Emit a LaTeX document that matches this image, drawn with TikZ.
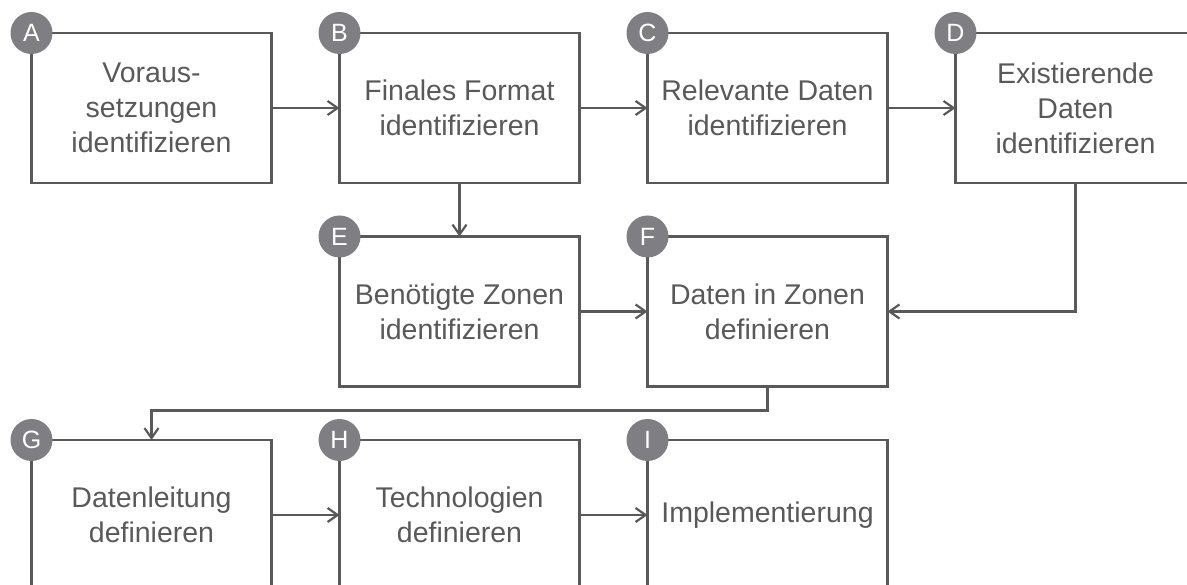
\documentclass[tikz,border=0pt]{standalone}
\usepackage{fontspec}
\setmainfont{Liberation Sans}
\usepackage{xcolor}
\usetikzlibrary{arrows.meta, positioning}
\definecolor{linegray}{HTML}{595959}
\definecolor{taggray}{HTML}{7F7F83}

\begin{document}
\begin{tikzpicture}[
  x=1pt, y=-1pt,
  box/.style={draw=linegray, line width=2.2pt, minimum width=240pt, minimum height=150pt, align=center, text=linegray, font=\fontsize{28.5}{35}\selectfont, inner sep=0pt, outer sep=0pt},
  tag/.style={circle, fill=taggray, minimum size=42pt, inner sep=0pt, text=white, font=\fontsize{25}{25}\selectfont},
  edge/.style={draw=linegray, line width=2.2pt, -{Straight Barb[length=10pt, width=14pt]}}
]
\clip (0,0) rectangle (1187,585);
\node[box] (A) at (151.5,108) {Voraus-\\setzungen\\identifizieren};
\node[box, right=68pt of A] (B) {Finales Format\\identifizieren};
\node[box, right=68pt of B] (C) {Relevante Daten\\identifizieren};
\node[box, right=68pt of C] (D) {Existierende\\Daten\\identifizieren};
\node[box, below=53.5pt of B] (E) {Benötigte Zonen\\identifizieren};
\node[box, right=68pt of E] (F) {Daten in Zonen\\definieren};
\node[box, below=53.5pt of E] (H) {Technologien\\definieren};
\node[box, left=68pt of H] (G) {Datenleitung\\definieren};
\node[box, right=68pt of H] (I) {Implementierung};

\draw[edge] (A) -- (B);
\draw[edge] (B) -- (C);
\draw[edge] (C) -- (D);
\draw[edge] (B) -- (E);
\draw[edge] (E) -- (F);
\draw[edge] (D.south) |- (F.east);
\draw[edge] (F.south) -- ++(0,24) -| (G.north);
\draw[edge] (G) -- (H);
\draw[edge] (H) -- (I);

\foreach \n in {A,B,C,D,E,F,G,H,I}
  \node[tag] (tag\n) at (\n.north west) {\n};
\end{tikzpicture}
\end{document}
